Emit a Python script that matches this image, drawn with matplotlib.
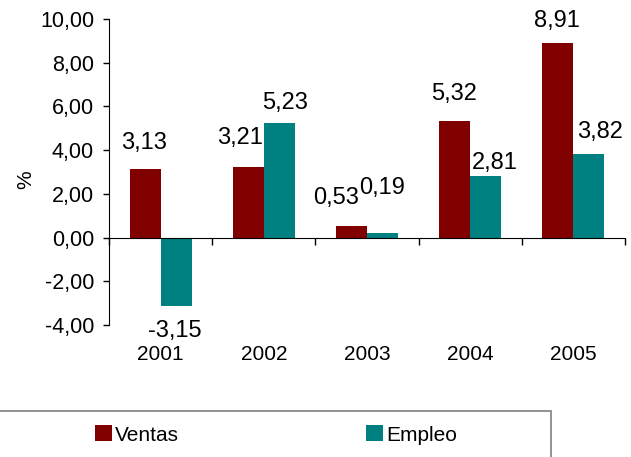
import matplotlib
matplotlib.use("Agg")
import matplotlib.pyplot as plt
from matplotlib.patches import Rectangle
import numpy as np

# Data
years = ["2001", "2002", "2003", "2004", "2005"]
ventas = [3.13, 3.21, 0.53, 5.32, 8.91]
empleo = [-3.15, 5.23, 0.19, 2.81, 3.82]

# Label offsets in pixels (dx, dy) from bar end, hand-placed like the original
ventas_off = [(-1, 26), (-8, 29), (-15, 28), (-1, 27), (-1, 22)]
empleo_off = [(-1, -25), (6, 20), (0, 45), (9, 13), (11, 22)]

plt.rcParams['font.family'] = ['Liberation Sans', 'DejaVu Sans']

W, H = 631, 457
fig = plt.figure(figsize=(W / 100, H / 100), dpi=100)
ax = fig.add_axes([109 / W, 1 - 325 / H, 516 / W, 306 / H])

x = np.arange(len(years))
bw = 0.3
b1 = ax.bar(x - bw / 2, ventas, bw, color='#800000', label='Ventas')
b2 = ax.bar(x + bw / 2, empleo, bw, color='#008080', label='Empleo')

px = 0.72  # points per pixel
for bars, vals, offs in [(b1, ventas, ventas_off), (b2, empleo, empleo_off)]:
    for bar, v, (dx, dy) in zip(bars, vals, offs):
        ax.annotate(f"{v:.2f}".replace('.', ','),
                    xy=(bar.get_x() + bar.get_width() / 2, v),
                    xytext=(dx * px, dy * px), textcoords='offset points',
                    ha='center', va='center', fontsize=17)

ax.set_xlim(-0.5, len(years) - 0.5)
ax.set_ylim(-4, 10)
yt = np.arange(-4, 11, 2)
ax.set_yticks(yt)
ax.set_yticklabels([f"{v:.2f}".replace('.', ',') for v in yt], fontsize=15.5)
ax.tick_params(axis='y', direction='out', length=4.3, width=1, pad=6.5)

ax.spines['top'].set_visible(False)
ax.spines['right'].set_visible(False)
ax.spines['bottom'].set_position(('data', 0))
ax.set_xticks(np.arange(-0.5, len(years), 1))
ax.set_xticklabels([])
ax.tick_params(axis='x', direction='out', length=5, width=1)

for i, yr in enumerate(years):
    ax.annotate(yr, xy=(i, 0), xycoords=('data', 'axes fraction'),
                xytext=(0, -30 * px), textcoords='offset points',
                ha='center', va='center', fontsize=15)

fig.text(26 / W, 1 - 180 / H, '%', rotation=90, ha='center', va='center', fontsize=15)

# Legend box at the bottom
fig.add_artist(Rectangle((-5 / W, -10 / H), 556 / W, (H - 411 + 10) / H,
                         transform=fig.transFigure, fill=False,
                         edgecolor='#808080', lw=1.2))
fig.legend(handles=[b1, b2], loc='center left',
           bbox_to_anchor=(95 / W, 1 - 435 / H), ncol=2, frameon=False,
           fontsize=15, handlelength=0.8, handleheight=0.8,
           handletextpad=0.15, columnspacing=9.0, borderpad=0, borderaxespad=0)

fig.savefig('out.png', dpi=100)
